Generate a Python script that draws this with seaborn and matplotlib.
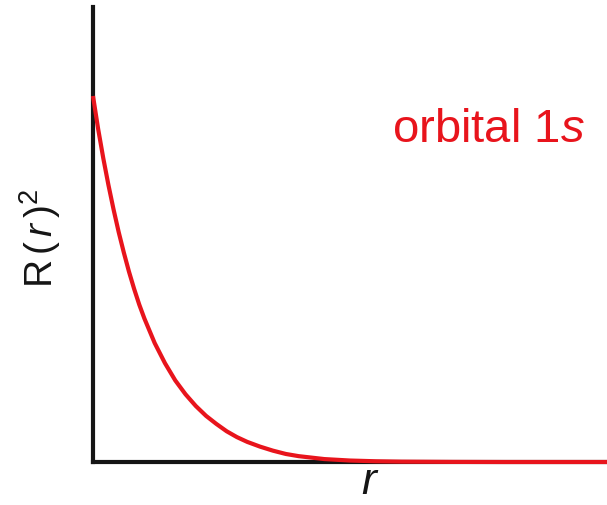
import matplotlib
matplotlib.use("Agg")
import matplotlib.pyplot as plt
import seaborn as sns
import pandas as pd

# Radial probability of the 1s orbital, R(r)^2 against r (arbitrary units)
r_values = [0.0, 0.1, 0.2, 0.3, 0.4, 0.5, 0.6, 0.7, 0.8, 0.9, 1.0,
            1.2, 1.4, 1.6, 1.8, 2.0, 2.2, 2.4, 2.6, 2.8, 3.0,
            3.25, 3.5, 3.75, 4.0, 4.5, 5.0, 5.5, 6.0, 7.0, 8.0, 10.0]
r2_values = [1.000, 0.910, 0.830, 0.757, 0.690, 0.628, 0.572, 0.520, 0.473,
             0.430, 0.392, 0.325, 0.270, 0.223, 0.185, 0.153, 0.126, 0.104,
             0.084, 0.068, 0.055, 0.042, 0.031, 0.022, 0.016, 0.008, 0.004,
             0.002, 0.001, 0.0003, 0.0, 0.0]

df = pd.DataFrame({"r": r_values, "R2": r2_values})

sns.set_style("white")
plt.rcParams["font.family"] = ["Liberation Sans", "DejaVu Sans"]
plt.rcParams["mathtext.fontset"] = "custom"
plt.rcParams["mathtext.rm"] = "Liberation Sans"
plt.rcParams["mathtext.it"] = "Liberation Sans:italic"

fig = plt.figure(figsize=(6.07, 5.06), dpi=100)
ax = fig.add_axes([93 / 607, 43 / 506, 1 - 93 / 607, (463 - 8) / 506])

red = "#e8141c"
sns.lineplot(data=df, x="r", y="R2", color=red, linewidth=3.0, ax=ax,
             zorder=5, clip_on=False, solid_joinstyle="round",
             solid_capstyle="butt")

ax.set_xlim(0, 10)
ax.set_ylim(0, (463 - 8) / 366)
ax.set_xticks([])
ax.set_yticks([])
for side in ("top", "right"):
    ax.spines[side].set_visible(False)
for side in ("left", "bottom"):
    ax.spines[side].set_color("#151515")
    ax.spines[side].set_linewidth(3.0)

ax.set_xlabel("")
ax.set_ylabel("")
fig.text(370 / 607, 1 - 494 / 506, "$r$", fontsize=32, ha="center",
         va="baseline", color="#151515")
fig.text(40 / 607, 1 - 238 / 506, r"R$\,$($\,r\,$)$^2$", fontsize=28,
         rotation=90, ha="center", va="center", color="#151515")
fig.text(392 / 607, 1 - 142 / 506, "orbital 1$s$", fontsize=34, ha="left",
         va="baseline", color=red)

fig.savefig("out.png", dpi=100)
